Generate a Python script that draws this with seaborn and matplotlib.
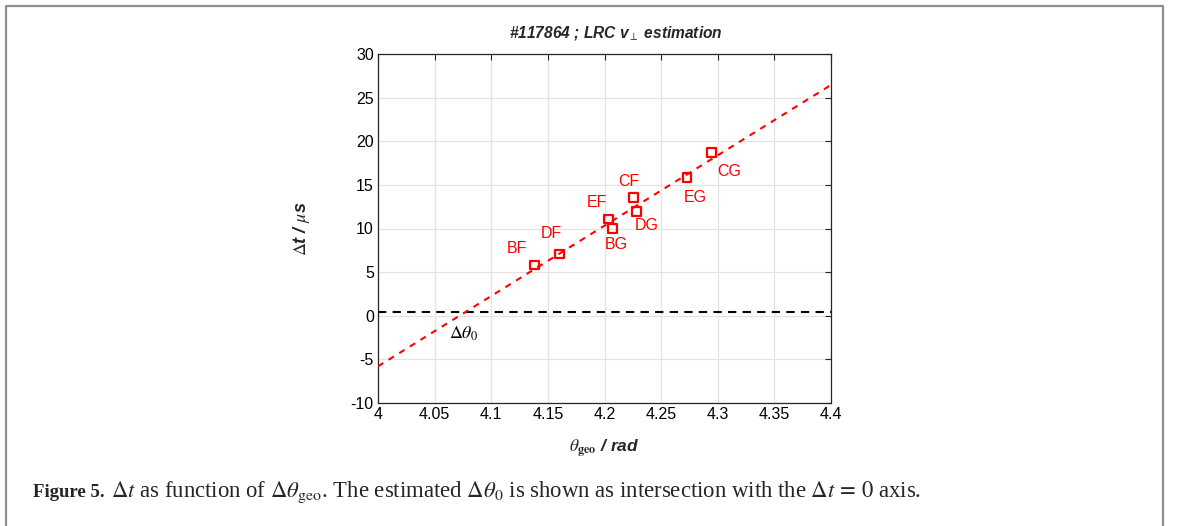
import numpy as np
import pandas as pd
import matplotlib
matplotlib.use("Agg")
import matplotlib.pyplot as plt
from matplotlib.lines import Line2D
import seaborn as sns

# ---------------- data ----------------
pair_labels = ["BF", "DF", "EF", "BG", "CF", "DG", "EG", "CG"]
theta_geo = [4.138, 4.160, 4.2034, 4.2072, 4.2258, 4.2284, 4.2729, 4.2947]
delta_t = [5.82, 7.08, 11.09, 9.98, 13.57, 11.93, 15.83, 18.73]
fit_x = [4.0, 4.4]
fit_y = [-5.8, 26.45]
zero_level = 0.4
x_ticks = [4.0, 4.05, 4.1, 4.15, 4.2, 4.25, 4.3, 4.35, 4.4]
x_tick_labels = ["4", "4.05", "4.1", "4.15", "4.2", "4.25", "4.3", "4.35", "4.4"]
y_ticks = [-10, -5, 0, 5, 10, 15, 20, 25, 30]
title_text = r"#117864 ; LRC v$_{\perp}$ estimation"
xlabel_text = r"$\theta_{\mathbf{geo}}$ / rad"
ylabel_text = r"$\Delta$t / $\mu$s"
theta0_label = r"$\Delta\theta_0$"
caption_bold = "Figure 5."
caption_rest = (r"$\mathit{\Delta t}$ as function of $\mathit{\Delta\theta}_{\mathrm{geo}}$. The estimated "
                r"$\mathit{\Delta\theta}_0$ is shown as intersection with the $\mathit{\Delta t}\,=\,0$ axis.")

# label offsets (pixels) -- layout only
label_offsets = {"BF": (-17, 16), "DF": (-8, 20), "EF": (-11, 16), "BG": (4, -16),
                 "CF": (-5, 16), "DG": (10, -14), "EG": (8, -20), "CG": (18, -19)}

df = pd.DataFrame({"theta": theta_geo, "dt": delta_t, "label": pair_labels})
fit_df = pd.DataFrame({"theta": fit_x, "dt": fit_y})

# ---------------- style ----------------
sns.set_theme(style="whitegrid")
plt.rcParams["font.family"] = ["Liberation Sans", "DejaVu Sans"]
plt.rcParams["mathtext.fontset"] = "stix"
plt.rcParams["axes.unicode_minus"] = False

fig = plt.figure(figsize=(11.79, 5.26), dpi=100)
fig.patch.set_facecolor("white")
ax = fig.add_axes([378 / 1179, 1 - 403 / 526, 453 / 1179, 349 / 526])
ax.set_facecolor("white")

ax.axhline(zero_level, color="black", ls=(0, (4, 3)), lw=1.5, zorder=2)
sns.lineplot(data=fit_df, x="theta", y="dt", ax=ax, color="#ff0000",
             lw=1.5, dashes=False, zorder=3)
ax.lines[-1].set_linestyle((0, (3, 3)))
sns.scatterplot(data=df, x="theta", y="dt", ax=ax, marker="s", s=40,
                facecolor="none", edgecolor="#ff0000", linewidth=1.6, zorder=4)

for lab, xv, yv in zip(pair_labels, theta_geo, delta_t):
    dx, dy = label_offsets[lab]
    ax.annotate(lab, (xv, yv), xytext=(dx, dy), textcoords="offset pixels",
                ha="center", va="center", color="#ff0000", fontsize=11.5)

x0 = fit_x[0] + (zero_level - fit_y[0]) * (fit_x[1] - fit_x[0]) / (fit_y[1] - fit_y[0])
ax.annotate(theta0_label, (x0, zero_level), xytext=(-1, -22), textcoords="offset pixels",
            ha="center", va="center", fontsize=13, color="black")

ax.set_xlim(4.0, 4.4)
ax.set_ylim(-10, 30)
ax.set_xticks(x_ticks)
ax.set_xticklabels(x_tick_labels)
ax.set_yticks(y_ticks)
ax.grid(True, color="#e3e3e3", lw=0.9)
for s in ax.spines.values():
    s.set_visible(True)
    s.set_color("#262626")
    s.set_linewidth(0.9)
ax.tick_params(direction="in", length=4, width=0.8, color="#262626",
               top=True, right=True, labelsize=11.5, pad=3, labelcolor="black")

ax.set_title(title_text, fontsize=11.2, fontweight="bold", style="italic", pad=12, x=0.524)
ax.set_xlabel(xlabel_text, fontsize=12.5, fontweight="bold", style="italic", labelpad=11)
ax.set_ylabel(ylabel_text, fontsize=13, fontweight="bold", style="italic", labelpad=28)

# caption
cap = fig.text(33 / 1179, 1 - 497 / 526, caption_bold, fontsize=13.5, fontweight="bold",
               family="Liberation Serif", ha="left", va="baseline")
fig.canvas.draw()
bb = cap.get_window_extent(renderer=fig.canvas.get_renderer())
fig.text((bb.x1 + 6) / fig.bbox.width, 1 - 497 / 526, caption_rest, fontsize=16.4,
         family="Liberation Serif", ha="left", va="baseline")

# figure frame (open at the bottom)
frame = Line2D([6 / 1179, 6 / 1179, 1163 / 1179, 1163 / 1179],
               [-0.05, 1 - 6 / 526, 1 - 6 / 526, -0.05],
               transform=fig.transFigure, color="#8f8f8f", lw=1.6)
fig.add_artist(frame)

fig.savefig("out.png", dpi=100)
